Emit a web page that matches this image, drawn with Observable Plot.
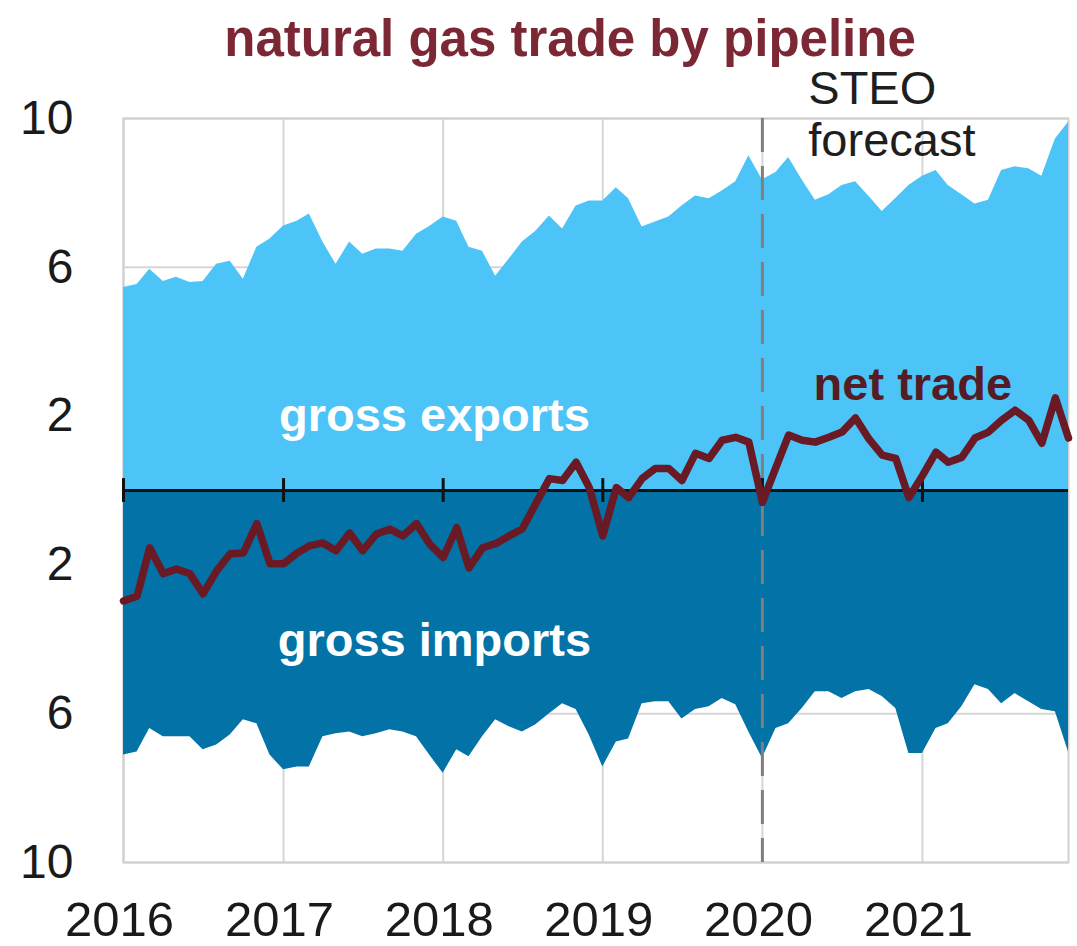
<!DOCTYPE html>
<html><head><meta charset="utf-8">
<script src="https://cdn.jsdelivr.net/npm/d3@7"></script>
<script src="https://cdn.jsdelivr.net/npm/@observablehq/plot@0.6"></script>
<style>
body{margin:0;background:#fff;font-family:"Liberation Sans",Arial,sans-serif;}
#title{height:70px;line-height:58px;padding-top:10px;text-align:center;font-weight:bold;font-size:51px;color:#7b2734;white-space:nowrap;padding-left:63px;box-sizing:border-box;width:1077px;overflow:visible;}
</style></head><body>
<div id="title">natural gas trade by pipeline</div>
<div id="chart"></div>
<script>
// years shown on the x axis
const yearLabels = ["2016", "2017", "2018", "2019", "2020", "2021"];
// y tick values (labels shown as absolute values)
const yTicks = [-10, -6, -2, 2, 6, 10];
// monthly gross exports by pipeline (Bcf/d), Jan 2016 - Dec 2021
const grossExports = [
  5.46, 5.54, 5.95, 5.62, 5.73, 5.59, 5.62, 6.08, 6.16, 5.68, 6.54, 6.76,
  7.11, 7.24, 7.43, 6.68, 6.08, 6.68, 6.35, 6.49, 6.49, 6.43, 6.89, 7.10,
  7.35, 7.24, 6.54, 6.43, 5.76, 6.22, 6.68, 6.97, 7.38, 7.03, 7.65, 7.78,
  7.78, 8.14, 7.84, 7.08, 7.22, 7.35, 7.65, 7.92, 7.84, 8.05, 8.30, 9.00,
  8.35, 8.55, 8.95, 8.35, 7.80, 7.95, 8.20, 8.30, 7.90, 7.50, 7.85, 8.20,
  8.45, 8.60, 8.20, 7.95, 7.70, 7.80, 8.60, 8.70, 8.65, 8.45, 9.45, 9.90
];
// monthly gross imports by pipeline (Bcf/d, magnitude)
const grossImports = [
  7.11, 7.03, 6.40, 6.62, 6.62, 6.62, 6.97, 6.84, 6.57, 6.16, 6.27, 7.11,
  7.51, 7.43, 7.43, 6.62, 6.54, 6.49, 6.62, 6.54, 6.43, 6.49, 6.62, 7.11,
  7.60, 6.97, 7.16, 6.62, 6.16, 6.35, 6.49, 6.30, 6.00, 5.73, 5.89, 6.57,
  7.43, 6.76, 6.68, 5.73, 5.68, 5.68, 6.14, 5.89, 5.81, 5.59, 5.76, 6.49,
  7.20, 6.40, 6.27, 5.86, 5.41, 5.41, 5.59, 5.41, 5.35, 5.54, 5.86, 7.07,
  7.07, 6.40, 6.27, 5.81, 5.22, 5.35, 5.73, 5.46, 5.68, 5.89, 5.95, 7.03
];
// monthly net trade line
const netTrade = [
  -2.97, -2.84, -1.54, -2.24, -2.11, -2.24, -2.78, -2.16, -1.70, -1.68, -0.89, -1.97,
  -1.97, -1.68, -1.49, -1.41, -1.62, -1.14, -1.62, -1.17, -1.04, -1.22, -0.89, -1.44,
  -1.80, -1.00, -2.08, -1.54, -1.43, -1.22, -1.03, -0.35, 0.32, 0.27, 0.76, 0.08,
  -1.22, 0.08, -0.19, 0.32, 0.59, 0.59, 0.27, 1.00, 0.86, 1.35, 1.43, 1.30,
  -0.32, 0.62, 1.49, 1.35, 1.30, 1.43, 1.57, 1.95, 1.38, 0.95, 0.86, -0.19,
  0.40, 1.03, 0.76, 0.89, 1.41, 1.57, 1.89, 2.16, 1.89, 1.27, 2.49, 1.41
];
const forecastStart = "2020-01";
const areaLabels = ["gross exports", "gross imports"];
const netLabel = ["net trade"];
const forecastLabels = ["STEO", "forecast"];

const months = d3.utcMonths(new Date(Date.UTC(2016, 0, 1)), new Date(Date.UTC(2022, 0, 1)));
const data = months.map((d, i) => ({date: d, exports: grossExports[i], imports: -grossImports[i], net: netTrade[i]}));
const yearDates = yearLabels.map(y => new Date(Date.UTC(+y, 0, 1)));
const fcDate = new Date(forecastStart + "-01T00:00:00Z");

const expColor = "#4dc4f7";
const impColor = "#0372a6";
const netColor = "#6a1a25";
const font = "Liberation Sans, Arial, sans-serif";

const labelX = new Date(Date.UTC(2017, 11, 12));
const chart = Plot.plot({
  width: 1077,
  height: 876,
  marginTop: 48,
  marginLeft: 123,
  marginRight: 9,
  marginBottom: 84,
  style: {fontFamily: font, background: "#fff", overflow: "visible"},
  x: {type: "utc", domain: [months[0], months[months.length - 1]]},
  y: {domain: [-10, 10]},
  marks: [
    Plot.gridX(yearDates, {stroke: "#d6d6d6", strokeOpacity: 1, strokeWidth: 2}),
    Plot.gridY(yTicks, {stroke: "#d6d6d6", strokeOpacity: 1, strokeWidth: 2}),
    Plot.frame({stroke: "#d0d0d0", strokeWidth: 2}),
    Plot.areaY(data, {x: "date", y: "exports", fill: expColor, curve: "linear"}),
    Plot.areaY(data, {x: "date", y: "imports", fill: impColor, curve: "linear"}),
    Plot.ruleX([fcDate], {stroke: "#7f7f7f", strokeWidth: 3, strokeDasharray: "34,14"}),
    Plot.ruleY([0], {stroke: "#111", strokeWidth: 3}),
    Plot.ruleX(yearDates, {y1: -0.32, y2: 0.32, stroke: "#111", strokeWidth: 3}),
    Plot.line(data, {x: "date", y: "net", stroke: netColor, strokeWidth: 7.5, strokeLinejoin: "round", strokeLinecap: "round"}),
    Plot.text(areaLabels, {x: labelX, y: [2.0, -4.05], text: d => d, fill: "#ffffff", fontWeight: "bold", fontSize: 47}),
    Plot.text(netLabel, {x: new Date(Date.UTC(2020, 11, 10)), y: 2.84, text: d => d, fill: "#561c26", fontWeight: "bold", fontSize: 47}),
    Plot.text(forecastLabels, {x: new Date(Date.UTC(2020, 3, 15)), y: [10.8, 9.4], text: d => d, fill: "#1e1e1e", textAnchor: "start", fontSize: 47}),
    Plot.axisX({ticks: yearDates, tickFormat: d3.utcFormat("%Y"), tickSize: 0, tickPadding: 39, fontSize: 49, fill: "#1a1a1a", dx: -4}),
    Plot.axisY({ticks: yTicks, tickFormat: d => Math.abs(d), tickSize: 0, tickPadding: 50, fontSize: 48, fill: "#1a1a1a"})
  ]
});
document.getElementById("chart").appendChild(chart);
</script>
</body></html>
